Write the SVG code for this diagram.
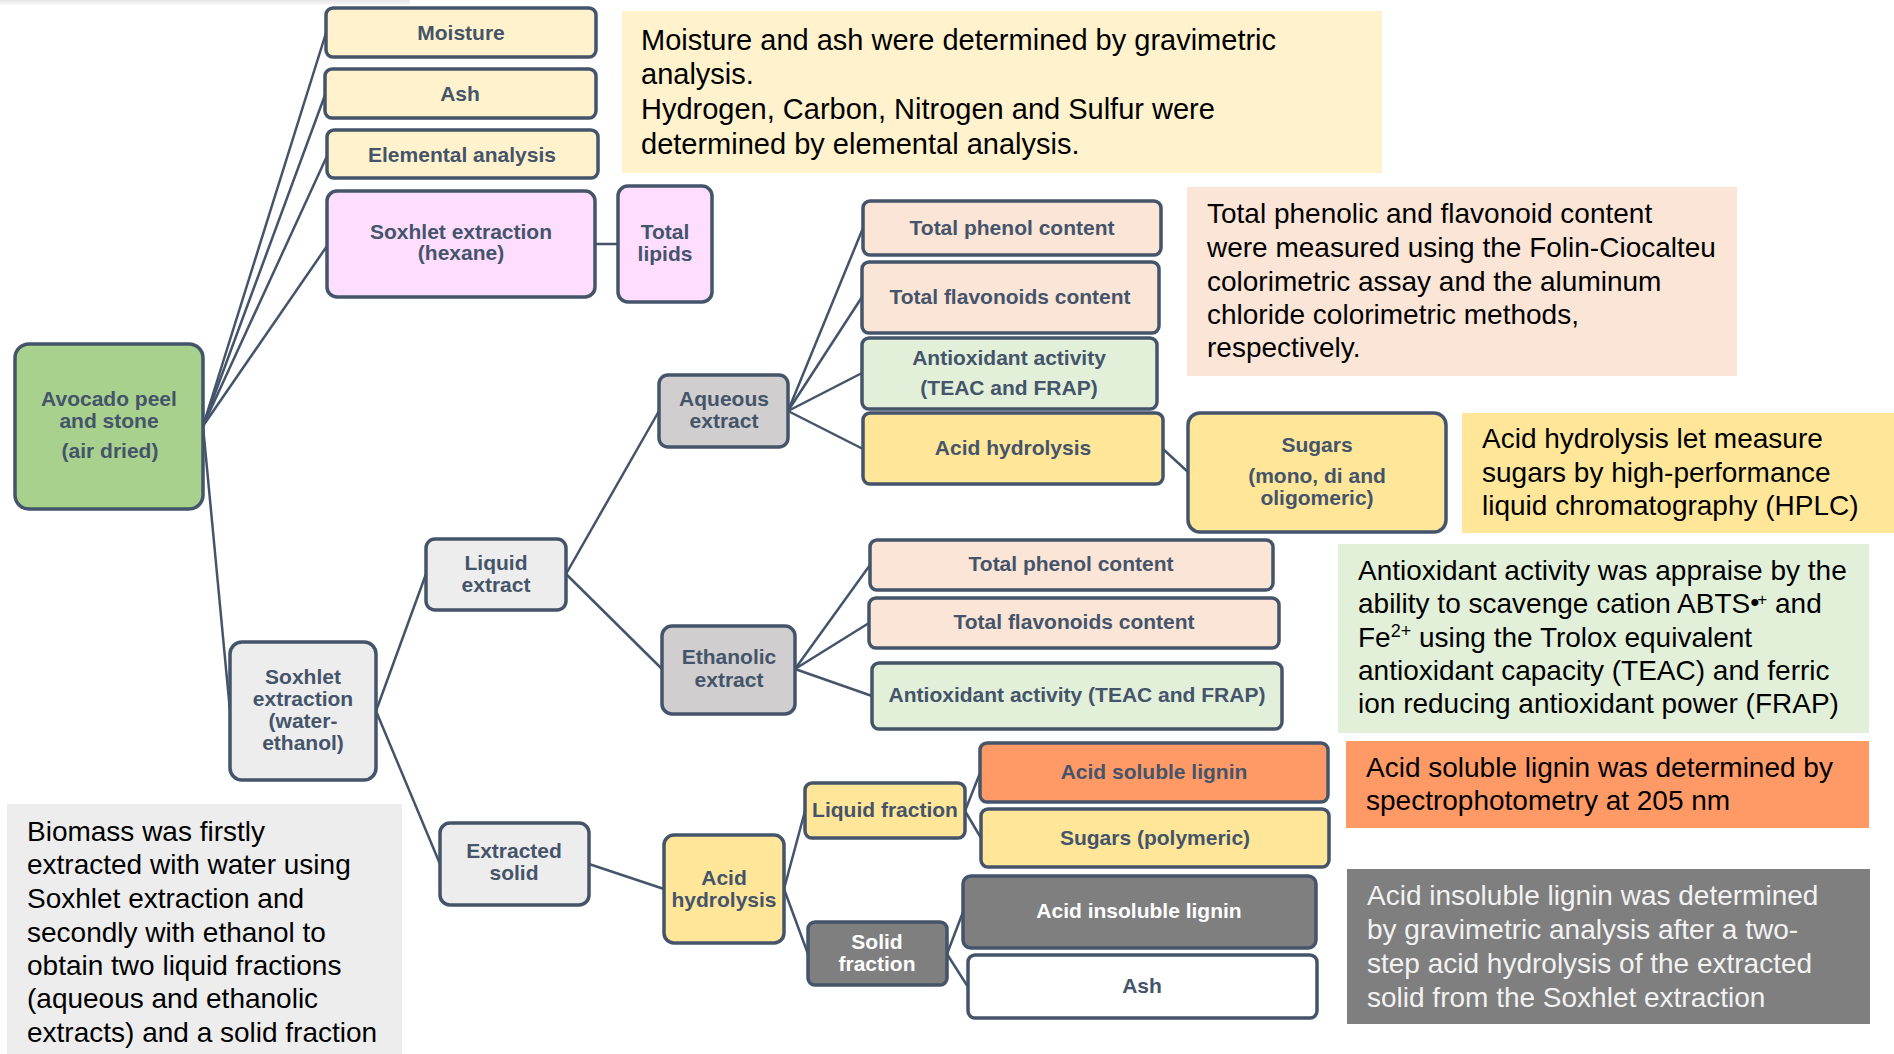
<svg xmlns="http://www.w3.org/2000/svg" width="1894" height="1054" viewBox="0 0 1894 1054">
<defs>
<linearGradient id="topbar" x1="0" y1="0" x2="0" y2="1">
<stop offset="0" stop-color="#e6e6e6"/>
<stop offset="1" stop-color="#f8f8f8"/>
</linearGradient>
<style>
.n rect{stroke:#44546a;stroke-width:3.5}
.n text{font-family:"Liberation Sans",Arial,sans-serif;font-weight:bold;font-size:21px;fill:#44546a;text-anchor:middle}
.n text.w{fill:#ffffff}
.c line{stroke:#44546a;stroke-width:2.5;stroke-linecap:round}
.a text{font-family:"Liberation Sans",Arial,sans-serif;font-size:28px;fill:#000000}
.cream{fill:#fff2cc}.pink{fill:#ffddff}.green{fill:#a9d18e}.lgray{fill:#ededed}.mgray{fill:#d0cece}
.peach{fill:#fbe5d6}.lgreen{fill:#e2f0d9}.yellow{fill:#ffe699}.orange{fill:#ff9966}.dgray{fill:#7f7f7f}.white{fill:#ffffff}
</style>
</defs>
<rect x="0" y="0" width="1894" height="1054" fill="#ffffff"/>
<rect x="0" y="0" width="410" height="5" fill="url(#topbar)"/>

<g id="annotations" class="a">
<g id="note-moisture">
<rect x="622" y="11" width="760" height="162" class="cream"/>
<text x="641" y="50" style="font-size:29px">Moisture and ash were determined by gravimetric</text>
<text x="641" y="84" style="font-size:29px">analysis.</text>
<text x="641" y="119" style="font-size:29px">Hydrogen, Carbon, Nitrogen and Sulfur were</text>
<text x="641" y="154" style="font-size:29px">determined by elemental analysis.</text>
</g>
<g id="note-phenolic">
<rect x="1187" y="187" width="550" height="189" class="peach"/>
<text x="1207" y="223">Total phenolic and flavonoid content</text>
<text x="1207" y="257">were measured using the Folin-Ciocalteu</text>
<text x="1207" y="291">colorimetric assay and the aluminum</text>
<text x="1207" y="324">chloride colorimetric methods,</text>
<text x="1207" y="357">respectively.</text>
</g>
<g id="note-hplc">
<rect x="1462" y="413" width="432" height="120" class="yellow"/>
<text x="1482" y="448">Acid hydrolysis let measure</text>
<text x="1482" y="482">sugars by high-performance</text>
<text x="1482" y="515">liquid chromatography (HPLC)</text>
</g>
<g id="note-antioxidant">
<rect x="1338" y="544" width="531" height="189" class="lgreen"/>
<text x="1358" y="580">Antioxidant activity was appraise by the</text>
<text x="1358" y="613">ability to scavenge cation ABTS<tspan font-size="26" dy="-2">•</tspan><tspan font-size="17" dx="-2" dy="-6">+</tspan><tspan dy="8"> and</tspan></text>
<text x="1358" y="647">Fe<tspan font-size="18" dy="-10">2+</tspan><tspan dy="10"> using the Trolox equivalent</tspan></text>
<text x="1358" y="680">antioxidant capacity (TEAC) and ferric</text>
<text x="1358" y="713">ion reducing antioxidant power (FRAP)</text>
</g>
<g id="note-asl">
<rect x="1346" y="741" width="523" height="87" class="orange"/>
<text x="1366" y="777">Acid soluble lignin was determined by</text>
<text x="1366" y="810">spectrophotometry at 205 nm</text>
</g>
<g id="note-ail">
<rect x="1347" y="869" width="523" height="155" class="dgray"/>
<text x="1367" y="905" style="fill:#f2f2f2">Acid insoluble lignin was determined</text>
<text x="1367" y="939" style="fill:#f2f2f2">by gravimetric analysis after a two-</text>
<text x="1367" y="973" style="fill:#f2f2f2">step acid hydrolysis of the extracted</text>
<text x="1367" y="1007" style="fill:#f2f2f2">solid from the Soxhlet extraction</text>
</g>
<g id="note-biomass">
<rect x="7" y="804" width="395" height="250" class="lgray"/>
<text x="27" y="841">Biomass was firstly</text>
<text x="27" y="874">extracted with water using</text>
<text x="27" y="908">Soxhlet extraction and</text>
<text x="27" y="942">secondly with ethanol to</text>
<text x="27" y="975">obtain two liquid fractions</text>
<text x="27" y="1008">(aqueous and ethanolic</text>
<text x="27" y="1042">extracts) and a solid fraction</text>
</g>
</g>

<g id="connectors" class="c">
<line x1="203" y1="426" x2="326" y2="33"/>
<line x1="203" y1="426" x2="325" y2="95"/>
<line x1="203" y1="426" x2="327" y2="156"/>
<line x1="203" y1="426" x2="327" y2="246"/>
<line x1="203" y1="426" x2="230" y2="711"/>
<line x1="595" y1="244" x2="618" y2="244"/>
<line x1="376" y1="711" x2="426" y2="574"/>
<line x1="376" y1="711" x2="440" y2="864"/>
<line x1="566" y1="574" x2="659" y2="411"/>
<line x1="566" y1="574" x2="662" y2="669"/>
<line x1="788" y1="411" x2="863" y2="228"/>
<line x1="788" y1="411" x2="862" y2="297"/>
<line x1="788" y1="411" x2="862" y2="373"/>
<line x1="788" y1="411" x2="863" y2="449"/>
<line x1="1163" y1="449" x2="1188" y2="472"/>
<line x1="795" y1="669" x2="870" y2="565"/>
<line x1="795" y1="669" x2="869" y2="623"/>
<line x1="795" y1="669" x2="872" y2="696"/>
<line x1="589" y1="864" x2="664" y2="889"/>
<line x1="784" y1="889" x2="805" y2="811"/>
<line x1="784" y1="889" x2="808" y2="954"/>
<line x1="965" y1="811" x2="980" y2="773"/>
<line x1="965" y1="811" x2="981" y2="838"/>
<line x1="947" y1="954" x2="963" y2="912"/>
<line x1="947" y1="954" x2="968" y2="987"/>
</g>

<g id="nodes">
<g id="moisture" class="n"><rect x="326" y="8" width="270" height="49" rx="7" class="cream"/><text x="461" y="39.5">Moisture</text></g>
<g id="ash-top" class="n"><rect x="325" y="69" width="271" height="49" rx="7" class="cream"/><text x="460" y="100.5">Ash</text></g>
<g id="elemental" class="n"><rect x="327" y="130" width="271" height="48" rx="7" class="cream"/><text x="462" y="161.5">Elemental analysis</text></g>
<g id="soxhlet-hexane" class="n"><rect x="327" y="191" width="268" height="106" rx="10" class="pink"/><text x="461" y="239">Soxhlet extraction</text><text x="461" y="260">(hexane)</text></g>
<g id="total-lipids" class="n"><rect x="618" y="186" width="94" height="116" rx="10" class="pink"/><text x="665" y="239">Total</text><text x="665" y="261">lipids</text></g>
<g id="avocado" class="n"><rect x="15" y="344" width="188" height="165" rx="14" class="green"/><text x="109" y="406">Avocado peel</text><text x="109" y="428">and stone</text><text x="110" y="458">(air dried)</text></g>
<g id="soxhlet-we" class="n"><rect x="230" y="642" width="146" height="138" rx="12" class="lgray"/><text x="303" y="684">Soxhlet</text><text x="303" y="706">extraction</text><text x="303" y="728">(water-</text><text x="303" y="750">ethanol)</text></g>
<g id="liquid-extract" class="n"><rect x="426" y="539" width="140" height="71" rx="9" class="lgray"/><text x="496" y="570">Liquid</text><text x="496" y="592">extract</text></g>
<g id="extracted-solid" class="n"><rect x="440" y="823" width="149" height="82" rx="10" class="lgray"/><text x="514" y="858">Extracted</text><text x="514" y="880">solid</text></g>
<g id="aqueous" class="n"><rect x="659" y="375" width="129" height="72" rx="9" class="mgray"/><text x="724" y="406">Aqueous</text><text x="724" y="428">extract</text></g>
<g id="ethanolic" class="n"><rect x="662" y="626" width="133" height="88" rx="10" class="mgray"/><text x="729" y="664">Ethanolic</text><text x="729" y="687">extract</text></g>
<g id="tpc-aq" class="n"><rect x="863" y="201" width="298" height="54" rx="7" class="peach"/><text x="1012" y="235">Total phenol content</text></g>
<g id="tfc-aq" class="n"><rect x="862" y="262" width="297" height="71" rx="7" class="peach"/><text x="1010" y="304">Total flavonoids content</text></g>
<g id="aa-aq" class="n"><rect x="862" y="338" width="295" height="71" rx="7" class="lgreen"/><text x="1009" y="365">Antioxidant activity</text><text x="1009" y="395">(TEAC and FRAP)</text></g>
<g id="ah-aq" class="n"><rect x="863" y="413" width="300" height="71" rx="7" class="yellow"/><text x="1013" y="455">Acid hydrolysis</text></g>
<g id="sugars-mono" class="n"><rect x="1188" y="413" width="258" height="119" rx="12" class="yellow"/><text x="1317" y="452">Sugars</text><text x="1317" y="483">(mono, di and</text><text x="1317" y="505">oligomeric)</text></g>
<g id="tpc-eth" class="n"><rect x="870" y="540" width="403" height="50" rx="7" class="peach"/><text x="1071" y="571">Total phenol content</text></g>
<g id="tfc-eth" class="n"><rect x="869" y="598" width="410" height="50" rx="7" class="peach"/><text x="1074" y="629">Total flavonoids content</text></g>
<g id="aa-eth" class="n"><rect x="872" y="663" width="410" height="66" rx="7" class="lgreen"/><text x="1077" y="702">Antioxidant activity (TEAC and FRAP)</text></g>
<g id="ah-solid" class="n"><rect x="664" y="835" width="120" height="108" rx="10" class="yellow"/><text x="724" y="885">Acid</text><text x="724" y="907">hydrolysis</text></g>
<g id="liquid-fraction" class="n"><rect x="805" y="783" width="160" height="55" rx="7" class="yellow"/><text x="885" y="817">Liquid fraction</text></g>
<g id="solid-fraction" class="n"><rect x="808" y="922" width="139" height="63" rx="7" class="dgray"/><text x="877" y="949" class="w">Solid</text><text x="877" y="971" class="w">fraction</text></g>
<g id="asl" class="n"><rect x="980" y="743" width="348" height="59" rx="7" class="orange"/><text x="1154" y="779">Acid soluble lignin</text></g>
<g id="sugars-poly" class="n"><rect x="981" y="809" width="348" height="58" rx="7" class="yellow"/><text x="1155" y="845">Sugars (polymeric)</text></g>
<g id="ail" class="n"><rect x="963" y="876" width="353" height="72" rx="8" class="dgray"/><text x="1139" y="918" class="w">Acid insoluble lignin</text></g>
<g id="ash-bottom" class="n"><rect x="968" y="955" width="349" height="63" rx="7" class="white"/><text x="1142" y="993">Ash</text></g>
</g>
</svg>
